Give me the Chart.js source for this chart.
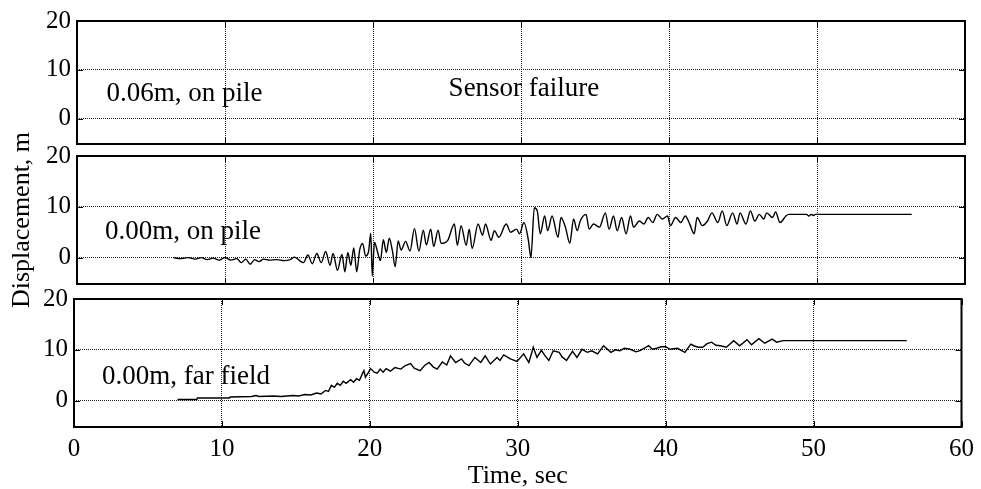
<!DOCTYPE html>
<html>
<head>
<meta charset="utf-8">
<script src="https://cdn.jsdelivr.net/npm/chart.js@4.4.1/dist/chart.umd.min.js"></script>
<style>
  html, body { margin: 0; padding: 0; background: #fff; }
  #wrap { position: relative; width: 981px; height: 489px; }
  #wrap canvas { position: absolute; left: 0; top: 0; }
</style>
</head>
<body>
<div id="wrap">
  <canvas id="p1" width="981" height="489"></canvas>
  <canvas id="p2" width="981" height="489"></canvas>
  <canvas id="p3" width="981" height="489"></canvas>
</div>
<script>
// tick labels
const xTickValues = [0, 10, 20, 30, 40, 50, 60];
const yTickValues = [0, 10, 20];

// 0.00m, on pile (middle panel)
const pileTime = [6.5, 7, 7.5, 8, 8.4, 8.8, 9.2, 9.6, 10, 10.4, 10.8, 11.1, 11.4, 11.7, 12, 12.3, 12.6, 13, 13.5, 14,
  14.4, 14.7, 15, 15.3, 15.6, 15.9, 16.2, 16.5, 16.8, 17.1, 17.3, 17.6, 17.9, 18.1, 18.3, 18.5, 18.7, 18.9, 19.1, 19.3,
  19.5, 19.7, 19.85, 19.95, 20.1, 20.3, 20.5, 20.7, 20.9, 21.1, 21.3, 21.5, 21.7, 21.9, 22.2, 22.5, 22.8, 23.1, 23.4, 23.6,
  23.9, 24.1, 24.4, 24.6, 25.05, 25.5, 25.7, 25.95, 26.3, 26.5, 26.7, 27.1, 27.4, 27.6, 27.98, 28.2, 28.5, 29, 29.3, 29.7,
  29.9, 30.2, 30.5, 30.67, 30.9, 31.1, 31.3, 31.6, 31.8, 32.1, 32.5, 32.7, 33, 33.3, 33.55, 33.8, 34, 34.4, 34.6, 34.9,
  35.3, 35.7, 35.95, 36.25, 36.5, 36.8, 37.1, 37.4, 37.6, 38, 38.3, 38.6, 38.9, 39.2, 39.55, 39.9, 40.1, 40.45, 40.8, 41.1,
  41.4, 41.7, 41.9, 42.25, 42.6, 42.9, 43.3, 43.6, 43.9, 44.3, 44.6, 44.8, 45.2, 45.5, 45.8, 46.1, 46.4, 46.6, 47, 47.2,
  47.5, 47.9, 48.1, 49.3, 49.45, 49.6, 49.75, 49.9, 56.4];
const pileDisp = [0, -0.2, 0, -0.3, 0, -0.4, -0.1, -0.5, 0, -0.5, -0.2, -1, -0.3, -1.3, -0.4, -0.8, -0.3, -0.5, -0.4, -0.6,
  -0.4, 0.1, -0.5, -1, 0.5, -1.2, 0.8, -1, 1.2, -1.5, 0.8, -2.5, 0.6, -2.8, 1.0, -1.5, 1.9, -2.8, 1.5, 2.8,
  0.3, 1.2, 4.8, -3.6, 3.0, 1.2, -0.6, 3.5, 1.0, 3.8, 1.5, -1.8, 3.3, 1.5, 3.2, 1.3, 5.7, 1.3, 5.4, 2.5,
  5.6, 2.2, 5.4, 2.8, 3.4, 6.6, 2.4, 6.3, 2.4, 5.6, 1.8, 6.6, 4.4, 6.6, 3.4, 5.3, 4.0, 6.6, 5.0, 5.6,
  4.7, 6.9, 3.4, 0, 9.8, 9.2, 4.7, 8.2, 5.3, 8.2, 4.0, 7.9, 6.0, 2.8, 7.6, 5.3, 7.2, 8.5, 5.6, 6.6,
  6.0, 8.8, 5.6, 8.2, 5.3, 7.9, 4.7, 8.2, 6.0, 7.2, 6.6, 7.9, 6.9, 8.5, 7.6, 8.2, 6.3, 7.9, 6.9, 8.2,
  6.6, 4.7, 7.9, 6.3, 7.2, 8.8, 6.9, 9.2, 6.3, 8.8, 6.6, 8.8, 6.6, 9.2, 7.2, 8.5, 7.6, 8.8, 7.9, 9.0,
  6.9, 8.2, 8.5, 8.5, 8.2, 8.5, 8.3, 8.5, 8.5];

// 0.00m, far field (bottom panel)
const farTime = [7, 8.3, 8.35, 10.5, 10.55, 12, 12.3, 12.5, 13.5, 14, 14.4, 14.8, 15.2, 15.6, 16, 16.4, 16.7, 17, 17.2, 17.4,
  17.6, 17.8, 18, 18.2, 18.4, 18.7, 18.9, 19.1, 19.3, 19.5, 19.6, 19.7, 19.9, 20.05, 20.3, 20.5, 20.7, 20.9, 21.1, 21.4,
  21.7, 22.1, 22.4, 22.75, 23, 23.4, 23.7, 24, 24.3, 24.55, 24.9, 25.2, 25.45, 25.8, 26.2, 26.4, 26.7, 27.1, 27.5, 27.8,
  28.15, 28.6, 28.8, 29.05, 29.5, 29.95, 30.4, 30.75, 31.05, 31.3, 31.6, 31.85, 32.1, 32.4, 32.8, 33, 33.3, 33.7, 34, 34.35,
  34.7, 35, 35.4, 35.8, 36.3, 36.6, 36.9, 37.2, 37.6, 38, 38.3, 38.85, 39.1, 39.4, 39.7, 40, 40.3, 40.8, 41.3, 41.7,
  41.9, 42.2, 42.5, 42.8, 43.1, 43.4, 43.7, 44.1, 44.6, 45, 45.5, 45.8, 46.3, 46.7, 47.2, 47.5, 47.95, 56.3];
const farDisp = [0.2, 0.2, 0.5, 0.5, 0.7, 0.8, 1.0, 0.8, 0.9, 0.8, 0.9, 1.0, 0.9, 1.2, 1.1, 1.5, 1.3, 2.0, 1.8, 3.0,
  2.6, 3.4, 3.0, 3.8, 3.4, 4.1, 3.6, 4.3, 4.0, 5.3, 5.9, 4.6, 5.5, 6.3, 5.6, 5.4, 6.2, 5.6, 6.3, 5.8,
  6.5, 6.2, 6.9, 7.3, 6.4, 5.9, 6.9, 7.5, 6.6, 6.2, 7.6, 7.0, 8.8, 7.5, 8.2, 7.4, 6.9, 8.5, 7.5, 8.8,
  7.2, 8.5, 7.9, 9.0, 8.2, 7.7, 9.2, 7.5, 10.5, 8.5, 9.9, 8.8, 7.9, 9.8, 9.5, 8.6, 7.9, 9.7, 8.5, 10.1,
  9.5, 9.8, 9.2, 10.8, 9.5, 10.0, 9.8, 10.3, 10.1, 9.6, 9.9, 10.8, 10.1, 10.3, 10.6, 10.6, 10.1, 10.3, 9.5, 11.1,
  10.8, 10.5, 10.5, 11.2, 11.5, 10.9, 10.8, 10.5, 11.8, 10.8, 12.0, 11.0, 12.2, 11.3, 12.1, 11.5, 11.8, 11.8];

const W = 981, H = 489;
const serif = '"Liberation Serif", "Times New Roman", serif';
Chart.defaults.font.family = serif;
Chart.defaults.color = '#000';

function pairs(t, v) {
  return t.map((tt, i) => ({ x: tt, y: v[i] }));
}

// box frame + small inward tick marks
const framePlugin = {
  id: 'frame',
  afterDatasetsDraw(chart) {
    const { ctx, chartArea: a, scales: { x, y } } = chart;
    ctx.save();
    ctx.strokeStyle = '#000';
    ctx.lineWidth = 1;
    ctx.beginPath();
    x.ticks.forEach(t => {
      const px = Math.round(x.getPixelForValue(t.value)) + 0.5;
      ctx.moveTo(px, a.top); ctx.lineTo(px, a.top + 6);
      ctx.moveTo(px, a.bottom); ctx.lineTo(px, a.bottom - 6);
    });
    y.ticks.forEach(t => {
      const py = Math.round(y.getPixelForValue(t.value)) + 0.5;
      ctx.moveTo(a.left, py); ctx.lineTo(a.left + 6, py);
      ctx.moveTo(a.right, py); ctx.lineTo(a.right - 6, py);
    });
    ctx.stroke();
    ctx.lineWidth = 2;
    ctx.strokeRect(a.left, a.top, a.right - a.left, a.bottom - a.top);
    ctx.restore();
  }
};

function makePanel(id, box, datasets, notes, bottomAxis, yTitle) {
  const xAxisH = bottomAxis ? H - box.bottom : 0;
  const textPlugin = {
    id: 'notes',
    afterDraw(chart) {
      const { ctx, scales: { x, y } } = chart;
      ctx.save();
      ctx.font = '27px ' + serif;
      ctx.fillStyle = '#000';
      ctx.textBaseline = 'middle';
      notes.forEach(n => {
        ctx.textAlign = n.align;
        ctx.fillText(n.text, x.getPixelForValue(n.x), y.getPixelForValue(n.y));
      });
      ctx.restore();
    }
  };
  return new Chart(document.getElementById(id), {
    type: 'line',
    data: { datasets: datasets },
    options: {
      responsive: false,
      animation: false,
      devicePixelRatio: 1,
      layout: { padding: { left: 0, top: box.top, right: W - box.right, bottom: H - box.bottom - xAxisH } },
      plugins: { legend: { display: false }, tooltip: { enabled: false } },
      elements: { point: { radius: 0 } },
      scales: {
        x: {
          type: 'linear', min: 0, max: 60,
          afterBuildTicks: s => { s.ticks = xTickValues.map(v => ({ value: v })); },
          afterFit: s => { s.height = xAxisH; },
          grid: { color: '#222', lineWidth: 1, drawTicks: false },
          border: { display: false, dash: [1, 1] },
          ticks: { display: bottomAxis, padding: 7, font: { size: 25 }, maxRotation: 0 },
          title: { display: bottomAxis, text: 'Time, sec', font: { size: 26, lineHeight: 1 }, padding: 0 }
        },
        y: {
          type: 'linear', min: -5.2, max: 20,
          afterBuildTicks: s => { s.ticks = yTickValues.map(v => ({ value: v })); },
          afterFit: s => { s.width = box.left; },
          grid: { color: '#222', lineWidth: 1, drawTicks: false },
          border: { display: false, dash: [1, 1] },
          ticks: { padding: 6, font: { size: 25 } },
          title: { display: !!yTitle, text: yTitle || '', font: { size: 26, lineHeight: 1 }, padding: { top: 9, bottom: 0 } }
        }
      }
    },
    plugins: [framePlugin, textPlugin]
  });
}

const lineStyle = { borderColor: '#000', borderWidth: 1.4, fill: false };

makePanel('p1', { left: 77, right: 965, top: 16, bottom: 144 }, [],
  [{ text: '0.06m, on pile', x: 2.0, y: 5.1, align: 'left' },
   { text: 'Sensor failure', x: 30.2, y: 6.1, align: 'center' }], false);

makePanel('p2', { left: 77, right: 965, top: 156, bottom: 284 },
  [Object.assign({ data: pairs(pileTime, pileDisp), cubicInterpolationMode: 'monotone' }, lineStyle)],
  [{ text: '0.00m, on pile', x: 1.9, y: 5.1, align: 'left' }], false, 'Displacement, m');

makePanel('p3', { left: 74, right: 963, top: 299, bottom: 427 },
  [Object.assign({ data: pairs(farTime, farDisp), tension: 0 }, lineStyle)],
  [{ text: '0.00m, far field', x: 1.9, y: 4.7, align: 'left' }], true);
</script>
</body>
</html>
